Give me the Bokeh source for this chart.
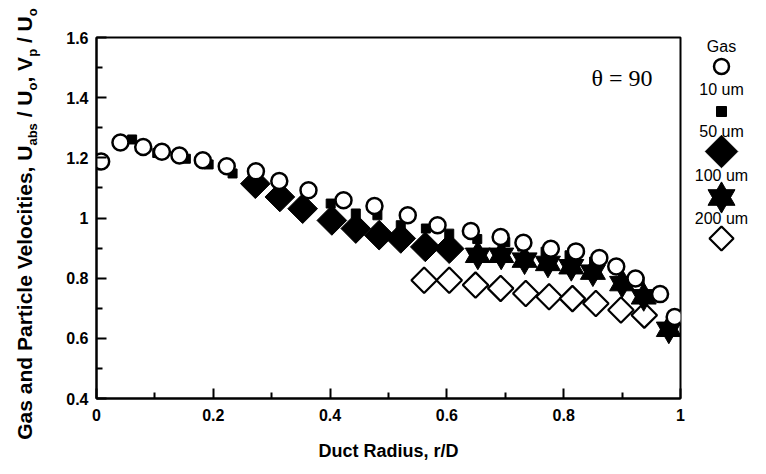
from math import pi
from bokeh.plotting import figure
from bokeh.models import Range1d, FixedTicker, Label, Div
from bokeh.layouts import row
from bokeh.embed import file_html
from bokeh.resources import INLINE
from bokeh.core.properties import value

# ---------------- data ----------------
gas_x = [0.008, 0.041, 0.080, 0.112, 0.142, 0.182, 0.223, 0.273, 0.313, 0.363, 0.423, 0.476,
         0.533, 0.584, 0.641, 0.692, 0.731, 0.778, 0.821, 0.861, 0.890, 0.923, 0.965, 0.990]
gas_y = [1.188, 1.251, 1.236, 1.220, 1.208, 1.192, 1.172, 1.155, 1.123, 1.092, 1.059, 1.040,
         1.009, 0.976, 0.957, 0.937, 0.918, 0.898, 0.889, 0.867, 0.839, 0.799, 0.747, 0.671]

p10_x = [0.061, 0.104, 0.153, 0.192, 0.233, 0.401, 0.444, 0.481, 0.521, 0.564, 0.604, 0.652,
         0.700, 0.729, 0.769, 0.810, 0.852, 0.890, 0.930, 0.985]
p10_y = [1.261, 1.216, 1.197, 1.178, 1.148, 1.048, 1.015, 1.009, 0.976, 0.965, 0.948, 0.930,
         0.920, 0.905, 0.888, 0.876, 0.855, 0.832, 0.790, 0.660]

p50_x = [0.272, 0.314, 0.353, 0.403, 0.444, 0.484, 0.521, 0.563, 0.604]
p50_y = [1.114, 1.070, 1.031, 0.992, 0.965, 0.943, 0.932, 0.904, 0.898]

p100_x = [0.653, 0.693, 0.733, 0.773, 0.813, 0.850, 0.900, 0.937, 0.980]
p100_y = [0.876, 0.876, 0.860, 0.849, 0.838, 0.820, 0.782, 0.738, 0.630]

p200_x = [0.561, 0.604, 0.649, 0.692, 0.735, 0.775, 0.815, 0.855, 0.898, 0.938]
p200_y = [0.793, 0.793, 0.777, 0.766, 0.749, 0.738, 0.732, 0.716, 0.694, 0.677]

x_ticks = [0, 0.2, 0.4, 0.6, 0.8, 1.0]
x_tick_labels = ["0", "0.2", "0.4", "0.6", "0.8", "1"]
x_minor = [0.1, 0.3, 0.5, 0.7, 0.9]
y_ticks = [0.4, 0.6, 0.8, 1.0, 1.2, 1.4, 1.6]
y_tick_labels = ["0.4", "0.6", "0.8", "1", "1.2", "1.4", "1.6"]
y_minor = [0.5, 0.7, 0.9, 1.1, 1.3, 1.5]

legend_labels = ["Gas", "10 um", "50 um", "100 um", "200 um"]

# ---------------- layout constants ----------------
FONT = "Liberation Sans"
H = 464
TOP, BOTTOM = 37, 66
FRAME_TOP_PX, FRAME_BOTTOM_PX = 39, 400          # page pixel rows of frame edges
legend_label_y = [48, 91, 133, 177, 220]        # page pixel rows
legend_marker_y = [68, 113, 153, 199, 240]
LEG_X = 31

p = figure(width=640, height=H, x_range=Range1d(0, 1), y_range=Range1d(0.4, 1.6),
           output_backend="svg", toolbar_location=None,
           min_border_left=46, min_border_right=10, min_border_top=TOP, min_border_bottom=BOTTOM)
p.xgrid.visible = False
p.ygrid.visible = False
p.outline_line_color = "black"
p.outline_line_width = 2
p.background_fill_color = "white"
p.border_fill_color = "white"

p.xaxis.ticker = FixedTicker(ticks=x_ticks, minor_ticks=x_minor)
p.xaxis.major_label_overrides = dict(zip(x_ticks, x_tick_labels))
p.yaxis.ticker = FixedTicker(ticks=y_ticks, minor_ticks=y_minor)
p.yaxis.major_label_overrides = dict(zip(y_ticks, y_tick_labels))

for ax in (p.xaxis[0], p.yaxis[0]):
    ax.axis_line_width = 2
    ax.axis_line_color = "black"
    ax.major_tick_line_width = 2
    ax.minor_tick_line_width = 2
    ax.major_tick_line_color = "black"
    ax.minor_tick_line_color = "black"
    ax.major_tick_in = 10
    ax.major_tick_out = 0
    ax.minor_tick_in = 6
    ax.minor_tick_out = 0
    ax.major_label_text_font = FONT
    ax.major_label_text_font_style = "bold"
    ax.major_label_text_font_size = "16px"
    ax.major_label_text_color = "black"
p.yaxis.major_label_standoff = 8
p.xaxis.major_label_standoff = 10

p.xaxis.axis_label = "Duct Radius, r/D"
p.xaxis.axis_label_text_font = FONT
p.xaxis.axis_label_text_font_style = "bold"
p.xaxis.axis_label_text_font_size = "18px"
p.xaxis.axis_label_text_color = "black"
p.xaxis.axis_label_standoff = 17

# markers (drawing order: open diamonds, stars, filled diamonds, squares, circles)
p.scatter(p200_x, p200_y, marker="square", angle=pi / 4, size=18,
          fill_color="white", line_color="black", line_width=2.2)
p.scatter(p100_x, p100_y, marker="triangle", size=25, color="black")
p.scatter(p100_x, p100_y, marker="inverted_triangle", size=25, color="black")
p.scatter(p50_x, p50_y, marker="square", angle=pi / 4, size=21, color="black")
p.scatter(p10_x, p10_y, marker="square", size=9, color="black")
p.scatter(gas_x, gas_y, marker="circle", size=16, fill_color="white",
          line_color="black", line_width=2.5)

p.add_layout(Label(x=0.90, y=1.466, text="\u03b8 = 90", text_font="Liberation Serif",
                   text_font_size="24px", text_align="center", text_baseline="middle",
                   text_color="black"))

# ---------------- legend panel ----------------
lg = figure(width=70, height=H, x_range=Range1d(0, 70),
            y_range=Range1d(FRAME_BOTTOM_PX, FRAME_TOP_PX),
            output_backend="svg", toolbar_location=None,
            min_border_left=0, min_border_right=0, min_border_top=TOP, min_border_bottom=BOTTOM)
lg.axis.visible = False
lg.grid.visible = False
lg.outline_line_color = None
lg.text(x=[LEG_X] * len(legend_labels), y=legend_label_y, text=legend_labels,
        text_align="center", text_baseline="middle", text_font=value(FONT),
        text_font_size="16px", text_color="black")
lg.scatter([LEG_X], [legend_marker_y[0]], marker="circle", size=15, fill_color="white",
           line_color="black", line_width=2.5)
lg.scatter([LEG_X], [legend_marker_y[1]], marker="square", size=10, color="black")
lg.scatter([LEG_X], [legend_marker_y[2]], marker="square", angle=pi / 4, size=23, color="black")
lg.scatter([LEG_X], [legend_marker_y[3]], marker="triangle", size=27, color="black")
lg.scatter([LEG_X], [legend_marker_y[3]], marker="inverted_triangle", size=27, color="black")
lg.scatter([LEG_X], [legend_marker_y[4]], marker="square", angle=pi / 4, size=17,
           fill_color="white", line_color="black", line_width=2.2)

# ---------------- y axis title (with subscripts) ----------------
sub = '<sub style="font-size:13px">%s</sub>'
ylab = ("Gas and Particle Velocities, U" + sub % "abs" + " / U" + sub % "o" +
        ", V" + sub % "p" + " / U" + sub % "o")
div = Div(width=40, height=H, text=(
    '<div style="position:absolute; left:-220px; top:206px; width:480px; height:26px; '
    'line-height:26px; text-align:center; white-space:nowrap; transform:rotate(-90deg); '
    "font-family:'Liberation Sans'; font-weight:bold; font-size:21px; color:black;\">"
    + ylab + "</div>"))

layout = row(div, p, lg)
open("out.html", "w").write(file_html(layout, INLINE))
